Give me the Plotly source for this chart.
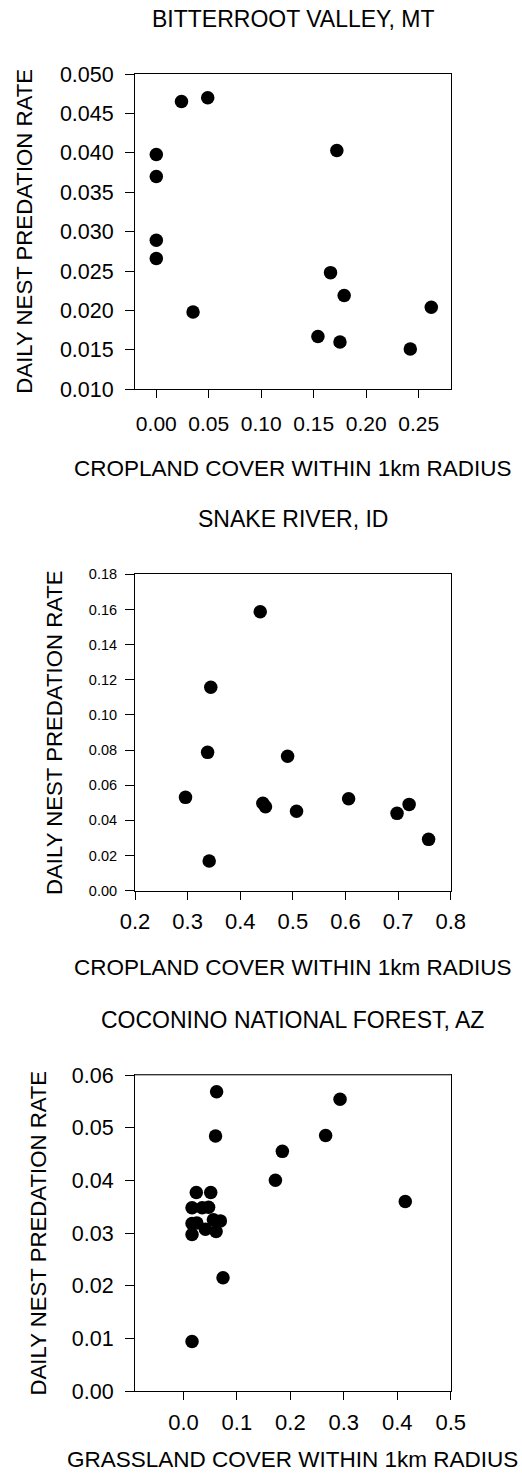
import plotly.graph_objects as go

W, H = 522, 1482
FONT = "Liberation Sans, Arial, sans-serif"

# ---- data ----
panel_titles = ["BITTERROOT VALLEY, MT", "SNAKE RIVER, ID", "COCONINO NATIONAL FOREST, AZ"]
x_titles = ["CROPLAND COVER WITHIN 1km RADIUS", "CROPLAND COVER WITHIN 1km RADIUS",
            "GRASSLAND COVER WITHIN 1km RADIUS"]
y_title = "DAILY NEST PREDATION RATE"

mt_x = [0.024, 0.049, 0.0, 0.0, 0.0, 0.0, 0.035, 0.172, 0.166, 0.179, 0.262, 0.154, 0.175, 0.242]
mt_y = [0.0465, 0.0470, 0.0398, 0.0370, 0.0289, 0.0266, 0.0198, 0.0403, 0.0248, 0.0219,
        0.0204, 0.0167, 0.0160, 0.0151]

id_x = [0.296, 0.338, 0.344, 0.341, 0.438, 0.443, 0.448, 0.490, 0.507, 0.606, 0.698, 0.721, 0.758]
id_y = [0.0531, 0.0787, 0.1157, 0.0169, 0.1587, 0.0497, 0.0478, 0.0765, 0.0452, 0.0523,
        0.0440, 0.0491, 0.0292]

az_x = [0.062, 0.060, 0.293, 0.266, 0.185, 0.172, 0.415, 0.074, 0.016,
        0.024, 0.051, 0.016, 0.035, 0.047, 0.016, 0.025, 0.016, 0.041, 0.061, 0.056, 0.069]
az_y = [0.0568, 0.0484, 0.0554, 0.0485, 0.0455, 0.0400, 0.0360, 0.0215, 0.0094,
        0.0377, 0.0377, 0.0348, 0.0348, 0.0349, 0.0318, 0.0319, 0.0297, 0.0307, 0.0303,
        0.0325, 0.0323]

mt_xticks = [0.00, 0.05, 0.10, 0.15, 0.20, 0.25]
mt_yticks = [0.010, 0.015, 0.020, 0.025, 0.030, 0.035, 0.040, 0.045, 0.050]
id_xticks = [0.2, 0.3, 0.4, 0.5, 0.6, 0.7, 0.8]
id_yticks = [0.00, 0.02, 0.04, 0.06, 0.08, 0.10, 0.12, 0.14, 0.16, 0.18]
az_xticks = [0.0, 0.1, 0.2, 0.3, 0.4, 0.5]
az_yticks = [0.00, 0.01, 0.02, 0.03, 0.04, 0.05, 0.06]

# ---- layout geometry (pixels) ----
box_left, box_right = 135, 450.7
boxes = [(74, 389.3), (574.3, 890.7), (1075, 1391)]   # (top, bottom)
title_y = [18.7, 518.5, 1020]
xtitle_y = [468, 967, 1459]
ytitle_x = [25, 54.5, 37.5]

def px(x):
    return x / W

def py(y):
    return 1 - y / H

fig = go.Figure()

series = [(mt_x, mt_y), (id_x, id_y), (az_x, az_y)]
for i, (xs, ys) in enumerate(series):
    sfx = "" if i == 0 else str(i + 1)
    fig.add_trace(go.Scatter(x=xs, y=ys, mode="markers", xaxis="x" + sfx, yaxis="y" + sfx,
                             marker=dict(size=13.5, color="black"), showlegend=False,
                             hoverinfo="skip", cliponaxis=False))

axis_common = dict(showline=True, linecolor="black", linewidth=1, mirror=True,
                   showgrid=False, zeroline=False, ticks="outside", tickcolor="black",
                   tickwidth=1, automargin=False)

specs = [
    dict(xr=[-0.0203, 0.2805], xt=mt_xticks, xfmt=".2f", yr=[0.010, 0.050], yt=mt_yticks,
         yfmt=".3f", yfs=21.5, xfs=21, xso=7, yso=7),
    dict(xr=[0.2, 0.8], xt=id_xticks, xfmt=".1f", yr=[0.0, 0.18], yt=id_yticks,
         yfmt=".2f", yfs=14.5, xfs=22, xso=3, yso=5),
    dict(xr=[-0.0907, 0.5], xt=az_xticks, xfmt=".1f", yr=[0.0, 0.06], yt=az_yticks,
         yfmt=".2f", yfs=21.5, xfs=22, xso=4, yso=7),
]

for i, s in enumerate(specs):
    top, bot = boxes[i]
    sfx = "" if i == 0 else str(i + 1)
    fig.layout["xaxis" + sfx] = dict(
        axis_common, domain=[px(box_left), px(box_right)], range=s["xr"],
        tickvals=s["xt"], ticktext=[format(v, s["xfmt"]) for v in s["xt"]],
        ticklen=8, anchor="y" + sfx, ticklabelstandoff=s["xso"],
        tickfont=dict(family=FONT, size=s["xfs"], color="black"))
    fig.layout["yaxis" + sfx] = dict(
        axis_common, domain=[py(bot), py(top)], range=s["yr"],
        tickvals=s["yt"], ticktext=[format(v, s["yfmt"]) for v in s["yt"]],
        ticklen=9, anchor="x" + sfx, ticklabelstandoff=s["yso"],
        tickfont=dict(family=FONT, size=s["yfs"], color="black"))

annotations = []
for i in range(3):
    top, bot = boxes[i]
    annotations.append(dict(text=panel_titles[i], x=px((box_left + box_right) / 2),
                            y=py(title_y[i]), xref="paper", yref="paper",
                            xanchor="center", yanchor="middle", showarrow=False,
                            font=dict(family=FONT, size=23, color="black")))
    annotations.append(dict(text=x_titles[i], x=px((box_left + box_right) / 2),
                            y=py(xtitle_y[i]), xref="paper", yref="paper",
                            xanchor="center", yanchor="middle", showarrow=False,
                            font=dict(family=FONT, size=22.5, color="black")))
    annotations.append(dict(text=y_title, x=px(ytitle_x[i]), y=py((top + bot) / 2),
                            xref="paper", yref="paper", textangle=-90,
                            xanchor="center", yanchor="middle", showarrow=False,
                            font=dict(family=FONT, size=22.2, color="black")))

# grey top border of the third panel
shapes = [dict(type="line", xref="paper", yref="paper", x0=px(box_left), x1=px(box_right),
               y0=py(boxes[2][0]), y1=py(boxes[2][0]), line=dict(color="#666666", width=1.2),
               layer="above")]

fig.update_layout(template="none", width=W, height=H, autosize=False,
                  margin=dict(l=0, r=0, t=0, b=0, pad=0, autoexpand=False),
                  paper_bgcolor="white", plot_bgcolor="white",
                  annotations=annotations, shapes=shapes, showlegend=False)

fig.write_html("out.html", config={"displayModeBar": False},
               post_script="document.body.style.margin='0';document.body.style.padding='0';")
